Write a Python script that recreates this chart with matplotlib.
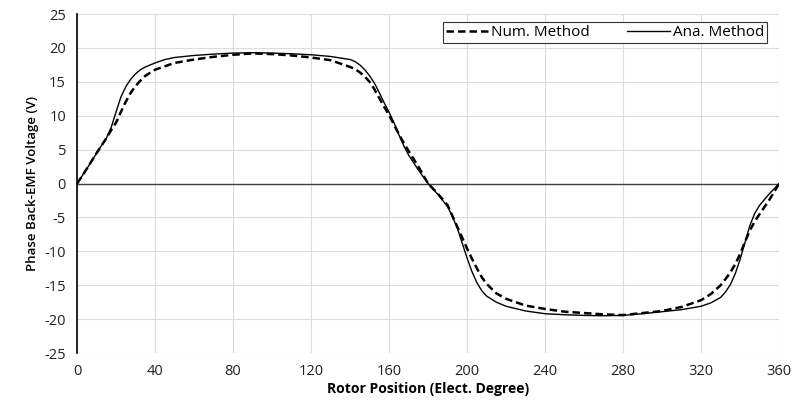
import numpy as np
import matplotlib
matplotlib.use('Agg')
import matplotlib.pyplot as plt

matplotlib.rcParams['font.family'] = ['Open Sans', 'DejaVu Sans']
matplotlib.rcParams['axes.unicode_minus'] = False

# rotor position (elect. degree)
x_pos = [0, 5, 10, 15, 17.5, 20, 22.5, 25, 27.5, 30, 32.5, 35, 40, 45, 50, 60, 70, 80, 90,
         100, 110, 120, 130, 140, 142.5, 145, 147.5, 150, 152.5, 155, 157.5, 160, 162.5, 165, 167.5, 170, 175, 180,
         185, 190, 192.5, 195, 197.5, 200, 202.5, 205, 207.5, 210, 215, 220, 230, 240, 250, 260, 270,
         280, 290, 300, 310, 320, 325, 330, 332.5, 335, 337.5, 340, 342.5, 345, 347.5, 350, 355, 360]

# analytical method (solid)
ana = [0, 2.2, 4.5, 6.7, 8.3, 10.6, 12.8, 14.3, 15.4, 16.2, 16.8, 17.2, 17.8, 18.3, 18.6, 18.9, 19.1, 19.25, 19.3,
       19.25, 19.15, 19.0, 18.75, 18.3, 18.0, 17.5, 16.8, 15.9, 14.8, 13.4, 11.9, 10.5, 9.0, 7.2, 5.6, 4.2, 2.0, 0,
       -1.6, -3.4, -4.9, -6.6, -8.8, -11.0, -13.0, -14.6, -15.8, -16.6, -17.5, -18.1, -18.8, -19.2, -19.35, -19.45, -19.5,
       -19.45, -19.2, -18.9, -18.6, -18.1, -17.6, -16.8, -16.0, -14.9, -13.3, -11.2, -8.7, -6.2, -4.4, -3.2, -1.5, 0]

# numerical method (dashed)
num = [0, 2.2, 4.5, 6.7, 7.9, 9.0, 10.6, 12.1, 13.4, 14.4, 15.2, 15.9, 16.8, 17.3, 17.8, 18.3, 18.7, 19.0, 19.2,
       19.1, 18.9, 18.6, 18.2, 17.2, 16.9, 16.4, 15.8, 15.0, 13.9, 12.6, 11.3, 10.1, 8.7, 7.3, 6.0, 4.8, 2.5, 0,
       -1.5, -3.2, -4.8, -6.4, -8.0, -9.6, -11.1, -12.5, -13.8, -14.8, -16.2, -17.0, -18.0, -18.5, -18.9, -19.1, -19.3,
       -19.4, -19.1, -18.8, -18.2, -17.2, -16.3, -15.0, -14.1, -13.1, -11.9, -10.4, -8.6, -6.9, -5.6, -4.5, -2.4, 0]

xticks = np.arange(0, 361, 40)
yticks = np.arange(-25, 26, 5)

fig = plt.figure(figsize=(7.95, 4.03), dpi=100)
ax = fig.add_axes([0.097, 0.124, 0.883, 0.841])

ax.plot(x_pos, num, 'k--', lw=1.8, dashes=(3, 1.6), label='Num. Method')
ax.plot(x_pos, ana, 'k-', lw=1.0, label='Ana. Method')
ax.axhline(0, color='#404040', lw=1.0, zorder=1)

ax.set_xlim(0, 360)
ax.set_ylim(-25, 25)
ax.set_xticks(xticks)
ax.set_yticks(yticks)
ax.grid(True, color='#dcdcdc', lw=0.8)
ax.set_axisbelow(True)
for s in ['top', 'right', 'bottom']:
    ax.spines[s].set_visible(False)
ax.spines['left'].set_color('black')
ax.spines['left'].set_linewidth(1.2)
ax.tick_params(length=0, labelsize=10.5, colors='#222222', pad=8)

ax.set_xlabel('Rotor Position (Elect. Degree)', fontsize=10, fontweight='bold', labelpad=2)
ax.set_ylabel('Phase Back-EMF Voltage (V)', fontsize=9.5, fontweight='semibold', labelpad=4)

leg = ax.legend(loc='upper right', bbox_to_anchor=(0.983, 0.976), borderaxespad=0, ncol=2, fontsize=11,
                fancybox=False, framealpha=1, edgecolor='#333333', handlelength=2.8,
                columnspacing=2.4, borderpad=0.2, handletextpad=0.2)
leg.get_frame().set_linewidth(0.8)

fig.savefig('out.png', dpi=100)
